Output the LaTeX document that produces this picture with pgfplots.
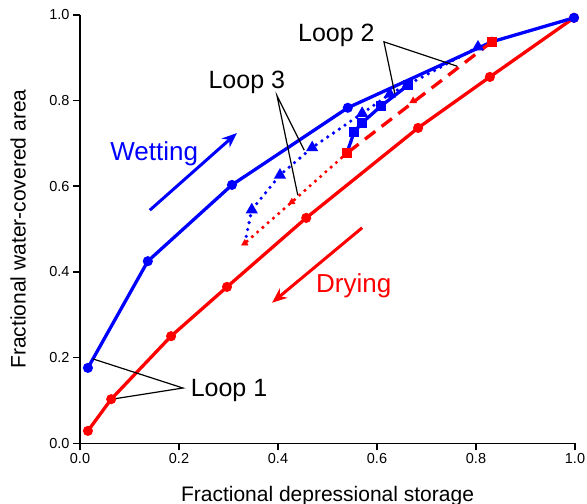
\documentclass[border=0pt]{standalone}
\usepackage{pgfplots}
\pgfplotsset{compat=1.18}
\usepackage{fontspec}
\setmainfont{Liberation Sans}
\usetikzlibrary{arrows.meta}
\definecolor{myblue}{RGB}{0,0,255}
\definecolor{myred}{RGB}{255,0,0}
\begin{document}
\begin{tikzpicture}
\begin{axis}[
  anchor=origin, at={(0,0)},
  scale only axis, width=495bp, height=428.5bp,
  xmin=0, xmax=1, ymin=0, ymax=1,
  axis lines=left, axis line style={-, line width=1.6bp, black},
  tick align=outside, major tick length=7bp, tick style={line width=1.6bp, black},
  xtick={0,0.2,0.4,0.6,0.8,1.0}, ytick={0,0.2,0.4,0.6,0.8,1.0},
  /pgf/number format/assume math mode=true,
  xticklabel style={/pgf/number format/.cd, fixed, fixed zerofill, precision=1},
  yticklabel style={/pgf/number format/.cd, fixed, fixed zerofill, precision=1},
  ticklabel style={font=\fontsize{14.5bp}{17bp}\selectfont},
  xlabel={Fractional depressional storage},
  ylabel={Fractional water-covered area},
  label style={font=\fontsize{21bp}{25bp}\selectfont},
  xlabel style={at={(axis description cs:0.5,-0.100)}, anchor=north, inner sep=0pt},
  ylabel style={at={(axis description cs:-0.125,0.50)}, anchor=center, inner sep=0pt},
  clip=false,
]
% main drying curve
\addplot[myred, line width=3.3bp, mark=*, mark size=3.3bp] coordinates {
 (0.998,0.993) (0.828,0.855) (0.683,0.736) (0.457,0.526) (0.297,0.365) (0.184,0.250) (0.063,0.103) (0.016,0.029)};
% main wetting curve
\addplot[myblue, line width=3.3bp, mark=*, mark size=3.3bp] coordinates {
 (0.016,0.176) (0.137,0.425) (0.307,0.603) (0.541,0.783) (0.832,0.937) (0.998,0.993)};
% loop 3 wetting (blue dotted)
\addplot[myblue, line width=3.6bp, line cap=round, dash pattern=on 0pt off 7bp, mark=triangle*, mark size=3.4bp, mark options={solid}, mark indices={2,3,4,5,6,8}] coordinates {
 (0.333,0.467) (0.347,0.545) (0.404,0.626) (0.469,0.690) (0.570,0.770) (0.626,0.815) (0.700,0.860) (0.804,0.925)};
% loop 3 drying (red dotted)
\addplot[myred, line width=3.6bp, line cap=round, dash pattern=on 0pt off 7bp] coordinates {
 (0.539,0.677) (0.428,0.563) (0.333,0.467)};
\addplot[only marks, myred, mark=triangle*, mark size=3.8bp] coordinates {
 (0.428,0.563) (0.333,0.467)};
% loop 2 wetting (blue solid squares)
\addplot[myblue, line width=3.3bp, mark=square*, mark size=3.3bp] coordinates {
 (0.539,0.677) (0.554,0.727) (0.570,0.748) (0.608,0.787) (0.663,0.836)};
% loop 2 drying (red dashed)
\addplot[myred, line width=3.3bp, dash pattern=on 13bp off 8bp, mark=square*, mark size=3.5bp, mark options={solid}] coordinates {
 (0.832,0.937) (0.539,0.677)};
\addplot[only marks, myred, mark=triangle*, mark size=4bp] coordinates {(0.673,0.799)};

% annotations
\draw[black, line width=1.2bp] (axis cs:0.026,0.197) -- (axis cs:0.208,0.129) -- (axis cs:0.065,0.103);
\node[anchor=base, inner sep=0pt, font=\fontsize{25bp}{30bp}\selectfont] at (axis cs:0.301,0.110) {Loop 1};
\draw[black, line width=1.2bp] (axis cs:0.636,0.816) -- (axis cs:0.614,0.937) -- (axis cs:0.762,0.880);
\node[anchor=base, inner sep=0pt, font=\fontsize{25bp}{30bp}\selectfont] at (axis cs:0.518,0.937) {Loop 2};
\draw[black, line width=1.2bp] (axis cs:0.453,0.684) -- (axis cs:0.398,0.811) -- (axis cs:0.440,0.579);
\node[anchor=base, inner sep=0pt, font=\fontsize{25bp}{30bp}\selectfont] at (axis cs:0.337,0.829) {Loop 3};

\draw[myblue, line width=3bp, -{Stealth[length=15bp,width=12bp]}] (axis cs:0.141,0.544) -- (axis cs:0.317,0.724);
\node[anchor=base, inner sep=0pt, text=myblue, font=\fontsize{26bp}{31bp}\selectfont] at (axis cs:0.150,0.661) {Wetting};
\draw[myred, line width=3bp, -{Stealth[length=15bp,width=12bp]}] (axis cs:0.570,0.503) -- (axis cs:0.388,0.328);
\node[anchor=base, inner sep=0pt, text=myred, font=\fontsize{26bp}{31bp}\selectfont] at (axis cs:0.553,0.351) {Drying};
\end{axis}
\pgfresetboundingbox
\path (-80bp,-60.7bp) rectangle (507bp,443.3bp);
\end{tikzpicture}
\end{document}
